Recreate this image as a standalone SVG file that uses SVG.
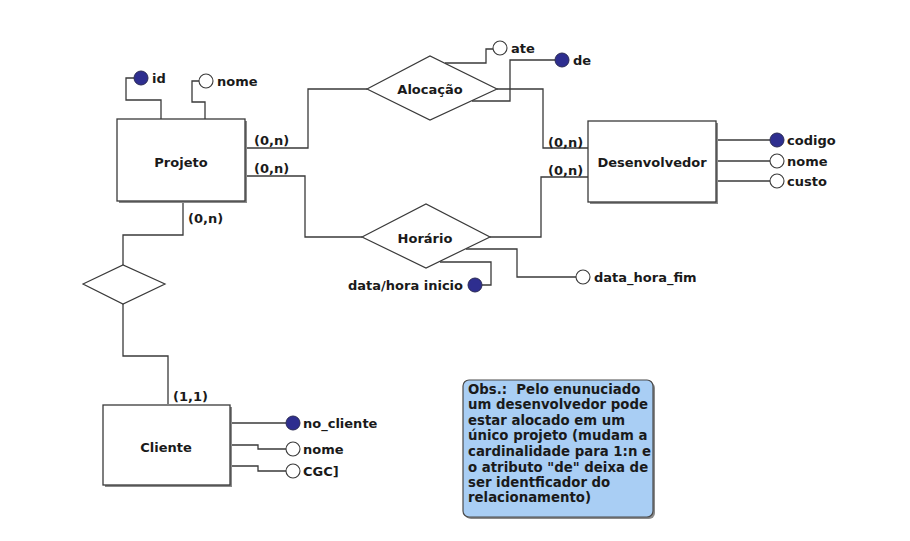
<svg xmlns="http://www.w3.org/2000/svg" width="910" height="541" viewBox="0 0 910 541">
<style>
  text { font-family: "DejaVu Sans", Verdana, sans-serif; font-weight: bold; font-size: 13px; fill: #1a1a1a; }
  .c { text-anchor: middle; }
  .e { text-anchor: end; }
  .n { font-size: 13.3px; }
  .ln { fill: none; stroke: #3a3a3a; stroke-width: 1.3; }
  .ent { fill: #ffffff; stroke: #3a3a3a; stroke-width: 1.3; }
  .sh { fill: #8a8a8a; }
  .rel { fill: #ffffff; stroke: #3a3a3a; stroke-width: 1.2; }
  .key { fill: #2e2e8f; stroke: #2a2a55; stroke-width: 1; }
  .att { fill: #ffffff; stroke: #3a3a3a; stroke-width: 1.1; }
  .note { fill: #a9cef4; stroke: #4a4a4a; stroke-width: 1.2; }
</style>
<rect width="910" height="541" fill="#ffffff"/>

<g id="connectors">
  <polyline class="ln" points="134,78 126,78 126,100 161,100 161,119"/>
  <polyline class="ln" points="199,81 192,81 192,102 205,102 205,119"/>
  <polyline class="ln" points="245,148 308,148 308,89 367,89"/>
  <polyline class="ln" points="245,176 305,176 305,237 362,237"/>
  <polyline class="ln" points="497,89 543,89 543,148 588,148"/>
  <polyline class="ln" points="490,237 541,237 541,177 588,177"/>
  <polyline class="ln" points="445,63 486,63 486,49 493,49"/>
  <polyline class="ln" points="472,101 510,101 510,60 555,60"/>
  <line class="ln" x1="716" y1="140" x2="770" y2="140"/>
  <line class="ln" x1="716" y1="161" x2="770" y2="161"/>
  <line class="ln" x1="716" y1="181" x2="770" y2="181"/>
  <polyline class="ln" points="440,262 491,262 491,285 482,285"/>
  <polyline class="ln" points="466,249 517,249 517,277 576,277"/>
  <polyline class="ln" points="183,201 183,235 123,235 123,265"/>
  <polyline class="ln" points="123,304 123,356 168,356 168,404"/>
  <line class="ln" x1="230" y1="423" x2="286" y2="423"/>
  <polyline class="ln" points="230,445 258,445 258,449 286,449"/>
  <polyline class="ln" points="230,466 258,466 258,471 286,471"/>
  <text x="254" y="145">(0,n)</text>
  <text x="254" y="173">(0,n)</text>
  <text x="548" y="147">(0,n)</text>
  <text x="548" y="175">(0,n)</text>
  <text x="188" y="223">(0,n)</text>
  <text x="173" y="401">(1,1)</text>
</g>

<g id="projeto">
  <rect class="sh" x="119" y="121" width="128" height="82"/>
  <rect class="ent" x="117" y="119" width="128" height="82"/>
  <text class="c" x="181" y="167">Projeto</text>
</g>
<g id="projeto-id">
  <circle class="key" cx="141" cy="78" r="7"/>
  <text x="152" y="83">id</text>
</g>
<g id="projeto-nome">
  <circle class="att" cx="206" cy="81" r="7"/>
  <text x="217" y="86">nome</text>
</g>

<g id="alocacao">
  <polygon class="rel" points="367,89 430,56 497,89 430,120"/>
  <text class="c" x="430" y="94">Alocação</text>
</g>
<g id="alocacao-ate">
  <circle class="att" cx="500" cy="48" r="7"/>
  <text x="511" y="53">ate</text>
</g>
<g id="alocacao-de">
  <circle class="key" cx="562" cy="60" r="7"/>
  <text x="573" y="65">de</text>
</g>

<g id="desenvolvedor">
  <rect class="sh" x="590" y="123" width="128" height="81"/>
  <rect class="ent" x="588" y="121" width="128" height="81"/>
  <text class="c" x="652" y="167">Desenvolvedor</text>
</g>
<g id="desenvolvedor-codigo">
  <circle class="key" cx="777" cy="140" r="7"/>
  <text x="787" y="145">codigo</text>
</g>
<g id="desenvolvedor-nome">
  <circle class="att" cx="777" cy="161" r="7"/>
  <text x="787" y="166">nome</text>
</g>
<g id="desenvolvedor-custo">
  <circle class="att" cx="777" cy="181" r="7"/>
  <text x="787" y="186">custo</text>
</g>

<g id="horario">
  <polygon class="rel" points="362,237 426,204 490,237 426,268"/>
  <text class="c" x="425" y="243">Horário</text>
</g>
<g id="horario-inicio">
  <circle class="key" cx="475" cy="285" r="7"/>
  <text class="e" x="463" y="290">data/hora inicio</text>
</g>
<g id="horario-fim">
  <circle class="att" cx="583" cy="277" r="7"/>
  <text x="594" y="282">data_hora_fim</text>
</g>

<g id="rel-projeto-cliente">
  <polygon class="rel" points="83,284 123,265 165,284 123,304"/>
</g>

<g id="cliente">
  <rect class="sh" x="105" y="407" width="127" height="80"/>
  <rect class="ent" x="103" y="405" width="127" height="80"/>
  <text class="c" x="166" y="452">Cliente</text>
</g>
<g id="cliente-no_cliente">
  <circle class="key" cx="293" cy="423" r="7"/>
  <text x="303" y="428">no_cliente</text>
</g>
<g id="cliente-nome">
  <circle class="att" cx="293" cy="449" r="7"/>
  <text x="303" y="454">nome</text>
</g>
<g id="cliente-cgc">
  <circle class="att" cx="293" cy="471" r="7"/>
  <text x="303" y="476">CGC]</text>
</g>

<g id="obs-note">
  <rect x="465" y="382" width="190" height="137" rx="6" fill="#8a8a8a"/>
  <rect class="note" x="463" y="380" width="190" height="137" rx="6"/>
  <text class="n" x="468" y="394">Obs.:&#160; Pelo enunuciado</text>
  <text class="n" x="468" y="409">um desenvolvedor pode</text>
  <text class="n" x="468" y="425">estar alocado em um</text>
  <text class="n" x="468" y="440">único projeto (mudam a</text>
  <text class="n" x="468" y="456">cardinalidade para 1:n e</text>
  <text class="n" x="468" y="472">o atributo "de" deixa de</text>
  <text class="n" x="468" y="487">ser identficador do</text>
  <text class="n" x="468" y="502">relacionamento)</text>
</g>
</svg>
